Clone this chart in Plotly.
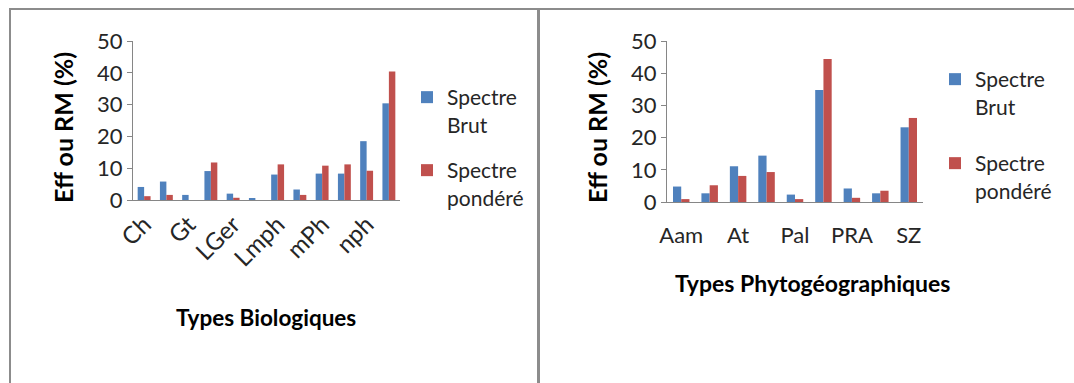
import plotly.graph_objects as go

W, H = 1074, 383

# ---- data ----
bio_types = ["Ch", "Gr", "Gt", "He", "LGer", "LmcPh", "Lmph", "Lnph", "mPh", "MPh", "nph", "Th"]
bio_shown = ["Ch", "Gt", "LGer", "Lmph", "mPh", "nph"]
bio_brut = [4.1, 5.8, 1.6, 9.1, 2.0, 0.6, 8.0, 3.3, 8.3, 8.3, 18.5, 30.4]
bio_pond = [1.2, 1.6, 0.0, 11.8, 0.7, 0.0, 11.2, 1.6, 10.8, 11.2, 9.2, 40.4]

geo_types = ["Aam", "AM", "At", "GC", "Pal", "Pan", "PRA", "S", "SZ"]
geo_shown = ["Aam", "At", "Pal", "PRA", "SZ"]
geo_brut = [4.8, 2.7, 11.1, 14.4, 2.3, 34.8, 4.2, 2.7, 23.2]
geo_pond = [0.9, 5.2, 8.1, 9.3, 0.9, 44.4, 1.3, 3.5, 26.1]

y_ticks = [0, 10, 20, 30, 40, 50]
series_names = ["Spectre<br>Brut", "Spectre<br>pondéré"]
colors = ["#4F81BD", "#C0504D"]

FONT = "Lato"
TXT = "#262626"
AX = "#868686"


def px(x):
    return x / W


def py(y):
    return 1 - y / H


fig = go.Figure()

for name, vals, col, lg in zip(series_names, [bio_brut, bio_pond], colors, ["legend", "legend2"]):
    fig.add_trace(go.Bar(x=bio_types, y=vals, name=name, marker_color=col,
                         marker_line_width=0, xaxis="x", yaxis="y", legend=lg))
for name, vals, col, lg in zip(series_names, [geo_brut, geo_pond], colors, ["legend3", "legend4"]):
    fig.add_trace(go.Bar(x=geo_types, y=vals, name=name, marker_color=col,
                         marker_line_width=0, xaxis="x2", yaxis="y2", legend=lg))

yax = dict(range=[0, 50], tickvals=y_ticks, showline=True, linecolor=AX, linewidth=1,
           ticks="outside", ticklen=5, tickcolor=AX, showgrid=False, zeroline=False,
           automargin=False, tickfont=dict(family=FONT, size=22, color=TXT))
xax = dict(showline=True, linecolor=AX, linewidth=1, ticks="", showgrid=False,
           automargin=False)

legend_common = dict(font=dict(family=FONT, size=21, color=TXT), bgcolor="rgba(0,0,0,0)",
                     valign="top", itemclick=False, xanchor="left", yanchor="top")

fig.update_layout(
    width=W, height=H,
    margin=dict(l=0, r=0, t=0, b=0, pad=0, autoexpand=False),
    paper_bgcolor="white", plot_bgcolor="white",
    barmode="group", bargap=0.42, bargroupgap=0,
    xaxis=dict(domain=[px(133), px(400)], anchor="y", categoryorder="array",
               categoryarray=bio_types, tickvals=bio_shown, ticktext=bio_shown,
               tickangle=-45, tickfont=dict(family=FONT, size=24, color=TXT), **xax),
    yaxis=dict(domain=[py(200), py(41)], anchor="x", **yax),
    xaxis2=dict(domain=[px(667), px(923)], anchor="y2", categoryorder="array",
                categoryarray=geo_types, tickvals=geo_shown, ticktext=geo_shown,
                tickangle=0, ticklabelstandoff=14,
                tickfont=dict(family=FONT, size=22, color=TXT), **xax),
    yaxis2=dict(domain=[py(202), py(41)], anchor="x2", **yax),
    legend=dict(x=px(407), y=py(77), **legend_common),
    legend2=dict(x=px(407), y=py(150), **legend_common),
    legend3=dict(x=px(935), y=py(59), **legend_common),
    legend4=dict(x=px(935), y=py(143), **legend_common),
    showlegend=True,
)

ytitle_font = dict(family=FONT, size=25, color="#000000")
fig.add_annotation(text="<b>Eff ou RM (%)</b>", x=px(63), y=py(128), xref="paper", yref="paper",
                   xanchor="center", yanchor="middle", textangle=-90, showarrow=False, font=ytitle_font)
fig.add_annotation(text="<b>Eff ou RM (%)</b>", x=px(597), y=py(128), xref="paper", yref="paper",
                   xanchor="center", yanchor="middle", textangle=-90, showarrow=False, font=ytitle_font)
fig.add_annotation(text="<b>Types Biologiques</b>", x=px(266), y=py(317), xref="paper", yref="paper",
                   xanchor="center", yanchor="middle", showarrow=False,
                   font=dict(family=FONT, size=22.5, color="#000000"))
fig.add_annotation(text="<b>Types Phytogéographiques</b>", x=px(812), y=py(283), xref="paper",
                   yref="paper", xanchor="center", yanchor="middle", showarrow=False,
                   font=dict(family=FONT, size=23, color="#000000"))

# frame lines
frame = dict(color="#8C8C8C", width=2)
fig.add_shape(type="line", xref="paper", yref="paper", x0=px(9), x1=1, y0=py(9), y1=py(9), line=frame)
fig.add_shape(type="line", xref="paper", yref="paper", x0=px(10), x1=px(10), y0=py(9), y1=0, line=frame)
fig.add_shape(type="line", xref="paper", yref="paper", x0=px(538.5), x1=px(538.5), y0=py(9), y1=0,
              line=dict(color="#8C8C8C", width=3))

fig.write_html("out.html")
